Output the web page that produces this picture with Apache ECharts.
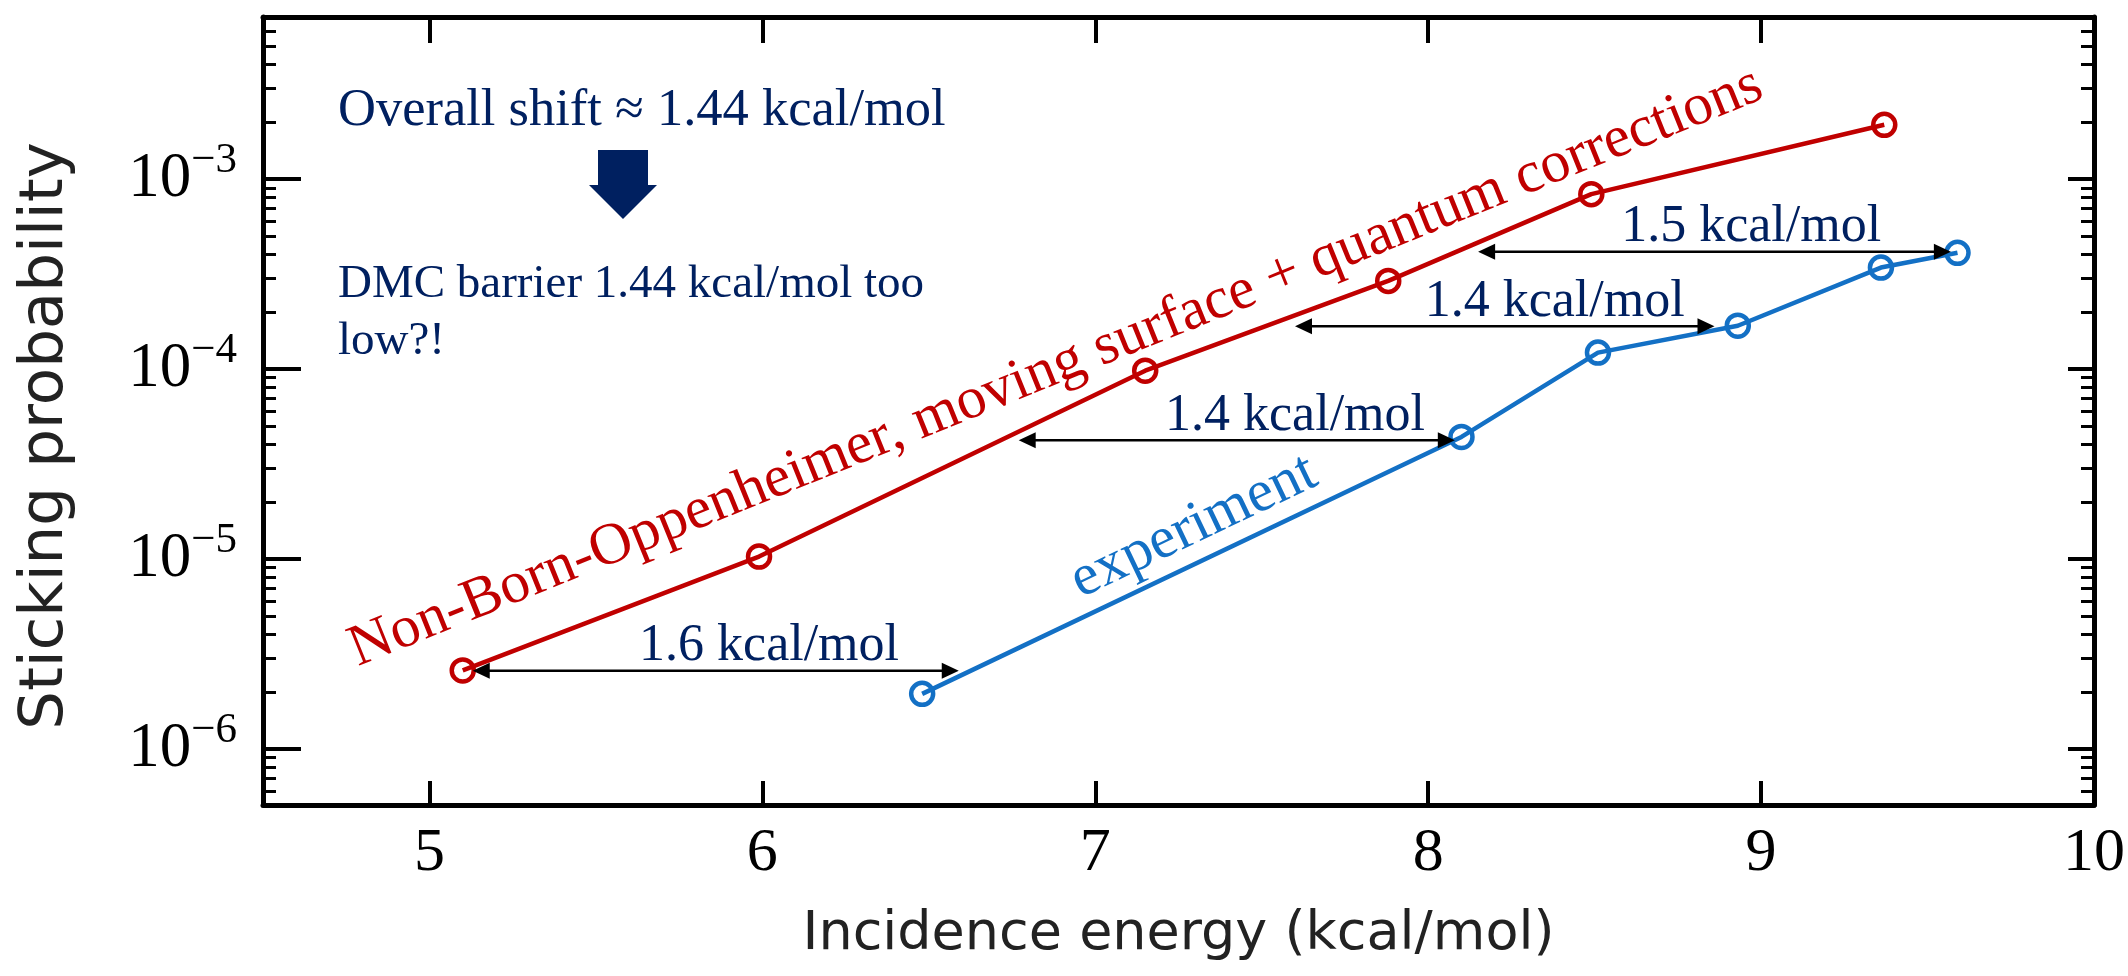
<!DOCTYPE html>
<html>
<head>
<meta charset="utf-8">
<script src="https://cdn.jsdelivr.net/npm/echarts@6/dist/echarts.min.js"></script>
<style>
html,body{margin:0;padding:0;background:#fff;}
#chart{width:2128px;height:976px;}
</style>
</head>
<body>
<div id="chart"></div>
<script>
// ---- data ----
const energyNBO = [5.10, 5.99, 7.15, 7.88, 8.49, 9.37];
const stickNBO  = [2.59e-6, 1.03e-5, 9.8e-5, 2.91e-4, 8.33e-4, 1.93e-3];
const energyExp = [6.48, 8.10, 8.51, 8.93, 9.36, 9.59];
const stickExp  = [1.95e-6, 4.39e-5, 1.22e-4, 1.69e-4, 3.42e-4, 4.09e-4];

const arrowFrom  = [5.13, 6.77, 7.60, 8.15];
const arrowTo    = [6.59, 8.08, 8.86, 9.57];
const arrowAt    = [2.58e-6, 4.22e-5, 1.68e-4, 4.14e-4];
const arrowTextX = [6.02, 7.60, 8.38, 8.97];
const arrowText  = ['1.6 kcal/mol', '1.4 kcal/mol', '1.4 kcal/mol', '1.5 kcal/mol'];

const xTicks  = [5, 6, 7, 8, 9, 10];
const yMajor  = [1e-6, 1e-5, 1e-4, 1e-3];
const yMinor  = [6e-7, 7e-7, 8e-7, 9e-7,
                 2e-6, 3e-6, 4e-6, 5e-6, 6e-6, 7e-6, 8e-6, 9e-6,
                 2e-5, 3e-5, 4e-5, 5e-5, 6e-5, 7e-5, 8e-5, 9e-5,
                 2e-4, 3e-4, 4e-4, 5e-4, 6e-4, 7e-4, 8e-4, 9e-4,
                 2e-3, 3e-3, 4e-3, 5e-3, 6e-3];

const X_MIN = 4.5, X_MAX = 10;
const Y_MIN = 5.07e-7, Y_MAX = 7.13e-3;

const RED = '#c00000', BLUE = '#1370c5', NAVY = '#002060';
const SERIF = '"Liberation Serif", "Times New Roman", serif';
const SANS = '"DejaVu Sans", sans-serif';

const chart = echarts.init(document.getElementById('chart'));

function supLabel(v) {
  const e = Math.log10(v);
  const r = Math.round(e);
  if (Math.abs(e - r) > 0.01) return '';
  return '{b|10}{s|\u2212' + Math.abs(r) + '}';
}

function yAxisCfg(pos, major, tickLen, showLabel, showLine) {
  return {
    type: 'log', logBase: 10, position: pos, min: Y_MIN, max: Y_MAX,
    axisLine: { show: showLine, onZero: false, lineStyle: { color: '#000', width: 5 } },
    axisTick: { show: true, inside: true, length: tickLen, customValues: major ? yMajor : yMinor,
                lineStyle: { color: '#000', width: major ? 4 : 3 } },
    axisLabel: showLabel ? {
      show: true, customValues: yMajor, margin: 26, formatter: supLabel,
      rich: {
        b: { fontFamily: SERIF, fontSize: 63, color: '#000' },
        s: { fontFamily: SERIF, fontSize: 43, color: '#000', padding: [0, 0, 37, 0] }
      }
    } : { show: false },
    splitLine: { show: false }, minorTick: { show: false }, minorSplitLine: { show: false }
  };
}

const option = {
  backgroundColor: '#fff',
  animation: false,
  grid: { left: 263, top: 17, right: 33.5, bottom: 171, containLabel: false },
  xAxis: [
    {
      type: 'value', position: 'bottom', min: X_MIN, max: X_MAX,
      axisLine: { show: true, onZero: false, lineStyle: { color: '#000', width: 5 } },
      axisTick: { show: true, inside: true, length: 24, customValues: xTicks, lineStyle: { color: '#000', width: 4 } },
      axisLabel: { show: true, customValues: xTicks, margin: 18, fontFamily: SERIF, fontSize: 62, color: '#000',
                   formatter: v => (Math.abs(v - Math.round(v)) < 1e-6 ? String(Math.round(v)) : '') },
      splitLine: { show: false },
      name: 'Incidence energy (kcal/mol)', nameLocation: 'middle', nameGap: 103,
      nameTextStyle: { fontFamily: SANS, fontSize: 54, color: '#222' }
    },
    {
      type: 'value', position: 'top', min: X_MIN, max: X_MAX,
      axisLine: { show: true, onZero: false, lineStyle: { color: '#000', width: 5 } },
      axisTick: { show: true, inside: true, length: 26, customValues: xTicks, lineStyle: { color: '#000', width: 4 } },
      axisLabel: { show: false }, splitLine: { show: false }
    }
  ],
  yAxis: [
    Object.assign(yAxisCfg('left', true, 38, true, true), {
      name: 'Sticking probability', nameLocation: 'middle', nameRotate: 90, nameGap: 186,
      nameTextStyle: { fontFamily: SANS, fontSize: 61, color: '#222', padding: [0, 50, 0, 0] }
    }),
    yAxisCfg('left', false, 13, false, false),
    yAxisCfg('right', true, 26, false, true),
    yAxisCfg('right', false, 13, false, false)
  ],
  series: [
    {
      name: 'Non-Born-Oppenheimer', type: 'line', xAxisIndex: 0, yAxisIndex: 0,
      data: energyNBO.map((x, i) => [x, stickNBO[i]]),
      lineStyle: { color: RED, width: 4.5 },
      symbol: 'circle', symbolSize: 22,
      itemStyle: { color: 'rgba(0,0,0,0)', borderColor: RED, borderWidth: 4.5 },
      z: 3
    },
    {
      name: 'experiment', type: 'line', xAxisIndex: 0, yAxisIndex: 0,
      data: energyExp.map((x, i) => [x, stickExp[i]]),
      lineStyle: { color: BLUE, width: 4.5 },
      symbol: 'circle', symbolSize: 22,
      itemStyle: { color: 'rgba(0,0,0,0)', borderColor: BLUE, borderWidth: 4.5 },
      z: 3
    },
    {
      name: 'shifts', type: 'custom', xAxisIndex: 0, yAxisIndex: 0, clip: false, z: 4,
      encode: { x: [0, 1, 3], y: 2 },
      data: arrowFrom.map((f, i) => [f, arrowTo[i], arrowAt[i], arrowTextX[i]]),
      renderItem: function (params, api) {
        const p1 = api.coord([api.value(0), api.value(2)]);
        const p2 = api.coord([api.value(1), api.value(2)]);
        const pt = api.coord([api.value(3), api.value(2)]);
        const L = 17, H = 8, y = p1[1];
        return {
          type: 'group',
          children: [
            { type: 'line', shape: { x1: p1[0] + L - 2, y1: y, x2: p2[0] - L + 2, y2: y },
              style: { stroke: '#000', lineWidth: 2.4 } },
            { type: 'polygon', shape: { points: [[p1[0], y], [p1[0] + L, y - H], [p1[0] + L, y + H]] },
              style: { fill: '#000' } },
            { type: 'polygon', shape: { points: [[p2[0], y], [p2[0] - L, y - H], [p2[0] - L, y + H]] },
              style: { fill: '#000' } },
            { type: 'text', x: pt[0], y: y - 24,
              style: { text: arrowText[params.dataIndex], font: '52px ' + SERIF, fill: NAVY,
                       align: 'center', verticalAlign: 'middle', textAlign: 'center', textVerticalAlign: 'middle' } }
          ]
        };
      }
    }
  ],
  graphic: [
    { type: 'text', x: 338, y: 111,
      style: { text: 'Overall shift \u2248 1.44 kcal/mol', font: '52.5px ' + SERIF, fill: NAVY,
               align: 'left', verticalAlign: 'middle', textAlign: 'left', textVerticalAlign: 'middle' } },
    { type: 'polygon', shape: { points: [[598, 150], [648, 150], [648, 185], [657, 185], [623, 219], [589, 185], [598, 185]] },
      style: { fill: NAVY } },
    { type: 'text', x: 338, y: 285,
      style: { text: 'DMC barrier 1.44 kcal/mol too', font: '47px ' + SERIF, fill: NAVY,
               align: 'left', verticalAlign: 'middle', textAlign: 'left', textVerticalAlign: 'middle' } },
    { type: 'text', x: 338, y: 342,
      style: { text: 'low?!', font: '47px ' + SERIF, fill: NAVY,
               align: 'left', verticalAlign: 'middle', textAlign: 'left', textVerticalAlign: 'middle' } },
    { type: 'text', x: 352, y: 652, rotation: 22 * Math.PI / 180,
      style: { text: 'Non-Born-Oppenheimer, moving surface + quantum corrections', font: '59px ' + SERIF, fill: RED,
               align: 'left', verticalAlign: 'middle', textAlign: 'left', textVerticalAlign: 'middle' } },
    { type: 'text', x: 1074, y: 584, rotation: 25.5 * Math.PI / 180,
      style: { text: 'experiment', font: '59px ' + SERIF, fill: BLUE,
               align: 'left', verticalAlign: 'middle', textAlign: 'left', textVerticalAlign: 'middle' } }
  ]
};
chart.setOption(option);
</script>
</body>
</html>
